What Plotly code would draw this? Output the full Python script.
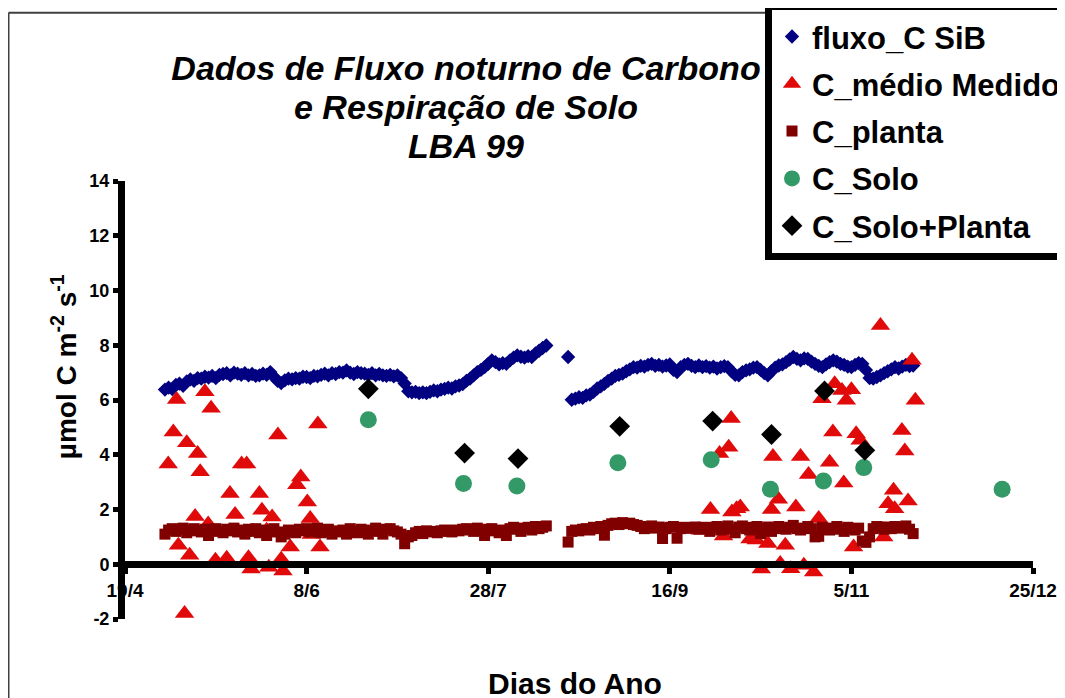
import plotly.graph_objects as go

# ---------------- data (day of year 1999, value in umol C m-2 s-1) ----------------
tick_days = [109, 159, 209, 259, 309, 359]
tick_labels = ["19/4", "8/6", "28/7", "16/9", "5/11", "25/12"]
y_ticks = [-2, 0, 2, 4, 6, 8, 10, 12, 14]
y_tick_labels = ["-2", "0", "2", "4", "6", "8", "10", "12", "14"]

daily_days = list(range(120, 226)) + [231] + list(range(232, 327))

sib_vals = [
    6.38, 6.45, 6.40, 6.55, 6.60, 6.52, 6.68, 6.75, 6.70, 6.80,
    6.78, 6.85, 6.82, 6.88, 6.80, 6.92, 6.95, 6.98, 6.90, 7.00,
    6.96, 6.92, 6.98, 6.90, 6.95, 6.88, 6.90, 6.96, 6.92, 7.02,
    6.85, 6.70, 6.62, 6.72, 6.78, 6.75, 6.80, 6.78, 6.85, 6.84,
    6.80, 6.88, 6.86, 6.92, 6.96, 6.90, 6.98, 6.95, 7.02, 7.00,
    7.08, 7.00, 6.95, 7.02, 6.98, 6.96, 6.92, 6.98, 6.90, 6.95,
    6.90, 6.88, 6.92, 6.86, 6.90, 6.80, 6.60, 6.32, 6.28, 6.30,
    6.25, 6.28, 6.25, 6.30, 6.35, 6.32, 6.38, 6.41, 6.45, 6.42,
    6.50, 6.53, 6.58, 6.70, 6.78, 6.90, 7.02, 7.10, 7.20, 7.32,
    7.45, 7.38, 7.30, 7.35, 7.32, 7.45, 7.55, 7.63, 7.58, 7.55,
    7.60, 7.57, 7.70, 7.80, 7.90, 7.99,
    7.57,
    6.01, 6.05, 6.10, 6.08, 6.17, 6.20, 6.30, 6.42, 6.50, 6.59,
    6.70, 6.78, 6.88, 6.92, 6.96, 7.05, 7.12, 7.20, 7.18, 7.25,
    7.22, 7.28, 7.32, 7.25, 7.28, 7.22, 7.26, 7.30, 7.10, 7.02,
    7.20, 7.28, 7.32, 7.25, 7.20, 7.26, 7.20, 7.24, 7.18, 7.22,
    7.15, 7.20, 7.24, 7.20, 7.05, 6.92, 6.90, 7.02, 7.08, 7.12,
    7.18, 7.20, 7.10, 6.98, 6.90, 7.05, 7.18, 7.26, 7.30, 7.38,
    7.48, 7.57, 7.50, 7.45, 7.52, 7.50, 7.40, 7.32, 7.25, 7.20,
    7.30, 7.38, 7.45, 7.40, 7.32, 7.28, 7.22, 7.20, 7.28, 7.35,
    7.32, 7.10, 6.80, 6.78, 6.84, 6.90, 6.98, 7.05, 7.12, 7.20,
    7.15, 7.22, 7.28, 7.24, 7.26,
]

planta_vals = [
    1.10, 1.25, 1.30, 1.20, 1.28, 1.32, 1.15, 1.25, 1.30, 1.22,
    1.18, 1.28, 1.05, 1.25, 1.30, 1.20, 1.15, 1.28, 1.22, 1.32,
    1.18, 1.25, 1.10, 1.28, 1.20, 1.30, 1.15, 1.25, 1.05, 1.22,
    1.30, 1.18, 1.00, 1.10, 1.25, 1.20, 1.15, 1.28, 1.22, 1.30,
    1.18, 1.25, 1.32, 1.15, 1.20, 1.28, 1.10, 1.22, 1.18, 1.25,
    1.10, 1.30, 1.20, 1.15, 1.28, 1.22, 1.10, 1.25, 1.32, 1.20,
    1.10, 1.28, 1.30, 1.22, 1.18, 1.10, 0.75, 1.00, 1.05, 1.15,
    1.20, 1.12, 1.22, 1.18, 1.20, 1.15, 1.22, 1.25, 1.20, 1.18,
    1.25, 1.22, 1.28, 1.30, 1.25, 1.20, 1.32, 1.25, 1.05, 1.28,
    1.30, 1.22, 1.15, 1.25, 1.05, 1.30, 1.35, 1.28, 1.20, 1.32,
    1.35, 1.25, 1.38, 1.30, 1.35, 1.40,
    0.81,
    1.20, 1.25, 1.22, 1.28, 1.30, 1.25, 1.35, 1.30, 1.38, 1.06,
    1.42, 1.48, 1.50, 1.45, 1.52, 1.48, 1.50, 1.45, 1.42, 1.38,
    1.30, 1.35, 1.40, 1.32, 1.36, 0.94, 1.30, 1.35, 1.38, 0.95,
    1.30, 1.35, 1.32, 1.32, 1.36, 1.28, 1.35, 1.30, 1.20, 1.35,
    1.38, 1.25, 1.32, 1.40, 1.28, 1.15, 1.36, 1.40, 1.30, 1.25,
    1.35, 1.38, 1.12, 1.30, 1.36, 1.20, 1.32, 1.38, 1.30, 1.28,
    1.35, 1.42, 1.30, 1.25, 1.32, 1.38, 1.30, 1.00, 1.02, 1.35,
    1.30, 1.25, 1.32, 1.38, 1.28, 1.20, 1.35, 1.30, 1.25, 1.32,
    0.85, 0.80, 1.00, 1.30, 1.38, 1.35, 1.28, 1.36, 1.30, 1.38,
    1.32, 1.35, 1.40, 1.28, 1.12,
]

medido_days = [
    120.9, 122.3, 123.2, 123.7, 125.4, 126.0, 126.8, 128.3, 129.0, 129.7,
    131.0, 131.9, 132.7, 133.9, 137.0, 137.9, 139.3, 141.1, 142.5, 143.0,
    143.7, 146.0, 146.7, 148.0, 148.6, 149.5, 151.1, 152.0, 152.5, 154.5,
    156.3, 157.4, 159.2, 160.0, 160.3, 162.1, 162.7,
    267.4, 270.2, 272.7, 273.8, 275.2, 275.9, 276.1, 277.4, 278.4, 281.1,
    282.8, 284.2, 286.0, 287.0, 287.4, 288.9, 289.4, 290.8, 292.3, 293.7,
    295.0, 295.9, 297.2, 298.6, 300.0, 300.9, 303.0, 303.9, 304.4, 306.4,
    306.9, 307.6, 309.0, 309.6, 310.3, 311.4, 317.0, 317.9, 319.1, 320.6,
    320.9, 322.9, 323.7, 324.6, 325.7, 326.6,
]
medido_vals = [
    3.66, 4.83, 6.02, 0.69, -1.80, 4.44, 0.33, 1.74, 4.05, 3.38,
    6.30, 1.47, 5.70, 0.15, 0.22, 2.58, 1.82, 3.66, 3.66, 0.24,
    -0.17, 2.58, 1.97, 1.24, -0.11, 1.73, 4.72, 0.18, -0.25, 0.63,
    2.90, 3.19, 2.27, 1.67, 1.09, 5.12, 0.63,
    1.24, 2.00, 4.05, 1.03, 4.27, 5.32, 1.91, 2.03, 2.09, 0.92,
    0.89, -0.17, 0.76, 2.00, 3.94, 2.37, 0.03, 0.69, -0.16, 2.09,
    3.94, -0.04, 3.28, -0.28, 1.67, 6.05, 3.73, 4.83, 6.59, 6.35,
    2.97, 5.99, 6.37, 0.63, 4.77, 4.53, 8.72, 1.00, 2.21, 2.70,
    2.03, 4.89, 4.14, 2.31, 7.45, 5.99,
]

solo_days = [176.0, 202.2, 216.9, 244.7, 270.4, 286.7, 301.3, 312.4, 350.5]
solo_vals = [5.28, 2.95, 2.86, 3.71, 3.82, 2.74, 3.04, 3.53, 2.74]

soloplanta_days = [176.0, 202.5, 217.2, 245.2, 270.8, 287.0, 301.6, 312.7]
soloplanta_vals = [6.41, 4.06, 3.86, 5.04, 5.23, 4.74, 6.33, 4.16]

# ---------------- layout geometry ----------------
# The page body has an 8px margin, so figure coords = screen coords - 8.
OFF = 8
W, H = 1065, 698
PLOT_X0, PLOT_X1 = 125, 1033      # screen px of x-range ends
PLOT_Y0, PLOT_Y1 = 181, 618.6     # screen px of y=14 and y=-2
L = PLOT_X0 - OFF
T = PLOT_Y0 - OFF
PW = PLOT_X1 - PLOT_X0
PH = PLOT_Y1 - PLOT_Y0
R = W - L - PW
B = H - T - PH


def px_x(px):
    return (px - PLOT_X0) / PW


def px_y(py):
    return (PLOT_Y1 - py) / PH


FONT = "Liberation Sans, Arial, sans-serif"

fig = go.Figure()
fig.add_trace(go.Scatter(
    x=daily_days, y=sib_vals, mode="markers", name="fluxo_C SiB",
    legendgroup="a",
    marker=dict(symbol="diamond", size=11, color="#000080",
                line=dict(width=0))))
fig.add_trace(go.Scatter(
    x=medido_days, y=medido_vals, mode="markers", name="C_médio Medido",
    legendgroup="b",
    marker=dict(symbol="triangle-up", size=17, color="#E00A0A",
                line=dict(width=0))))
fig.add_trace(go.Scatter(
    x=daily_days, y=planta_vals, mode="markers", name="C_planta",
    legendgroup="c",
    marker=dict(symbol="square", size=11, color="#800000",
                line=dict(width=0))))
fig.add_trace(go.Scatter(
    x=solo_days, y=solo_vals, mode="markers", name="C_Solo",
    legendgroup="d",
    marker=dict(symbol="circle", size=17, color="#339966",
                line=dict(width=0))))
fig.add_trace(go.Scatter(
    x=soloplanta_days, y=soloplanta_vals, mode="markers", name="C_Solo+Planta",
    legendgroup="e",
    marker=dict(symbol="diamond", size=16, color="#000000",
                line=dict(width=0))))

fig.update_layout(
    width=W, height=H, autosize=False,
    margin=dict(l=L, r=R, t=T, b=B, autoexpand=False),
    paper_bgcolor="white", plot_bgcolor="white",
    font=dict(family=FONT, color="black"),
    title=dict(
        text="Dados de Fluxo noturno de Carbono",
        font=dict(family=FONT, size=34, weight="bold", style="italic", color="black"),
        x=(466 - OFF) / W, xanchor="center", xref="container",
        y=1 - (68 - OFF) / H, yanchor="middle", yref="container"),
    xaxis=dict(
        range=[109, 359], tickvals=tick_days, ticktext=tick_labels,
        anchor="free", position=2 / 16,
        showline=True, linewidth=7, linecolor="black",
        ticks="outside", ticklen=6, tickwidth=5, tickcolor="black",
        showgrid=False, zeroline=False,
        tickfont=dict(family=FONT, size=19, weight="bold", color="black")),
    yaxis=dict(
        range=[-2, 14], tickvals=y_ticks, ticktext=y_tick_labels,
        showline=True, linewidth=7, linecolor="black",
        ticks="outside", ticklen=5, tickwidth=5, tickcolor="black",
        showgrid=False, zeroline=False,
        tickfont=dict(family=FONT, size=18, weight="bold", color="black")),
    legend=dict(
        x=px_x(765), y=px_y(3), xanchor="left", yanchor="top",
        bgcolor="white", bordercolor="black", borderwidth=7,
        font=dict(family=FONT, size=31, weight="bold", color="black"),
        tracegroupgap=4, traceorder="grouped"),
    showlegend=True,
)

for line_text, cy in [("e Respiração de Solo", 107), ("LBA 99", 146)]:
    fig.add_annotation(
        text=line_text, xref="paper", yref="paper",
        x=px_x(466), y=px_y(cy), xanchor="center", yanchor="middle",
        showarrow=False,
        font=dict(family=FONT, size=34, weight="bold", style="italic", color="black"))

fig.add_annotation(
    text="µmol C m<sup>-2</sup> s<sup>-1</sup>", textangle=-90,
    xref="paper", yref="paper", x=px_x(64), y=px_y(367),
    xanchor="center", yanchor="middle", showarrow=False,
    font=dict(family=FONT, size=28, weight="bold", color="black"))
fig.add_annotation(
    text="Dias do Ano",
    xref="paper", yref="paper", x=px_x(575), y=px_y(683),
    xanchor="center", yanchor="middle", showarrow=False,
    font=dict(family=FONT, size=30, weight="bold", color="black"))

# outer chart frame (top and left edges visible)
fig.add_shape(type="line", xref="paper", yref="paper",
              x0=px_x(8.5), y0=px_y(13), x1=px_x(1080), y1=px_y(13),
              line=dict(color="#404040", width=2), layer="below")
fig.add_shape(type="line", xref="paper", yref="paper",
              x0=px_x(8.5), y0=px_y(13), x1=px_x(8.5), y1=px_y(720),
              line=dict(color="#404040", width=2), layer="below")

fig.write_html("out.html")
